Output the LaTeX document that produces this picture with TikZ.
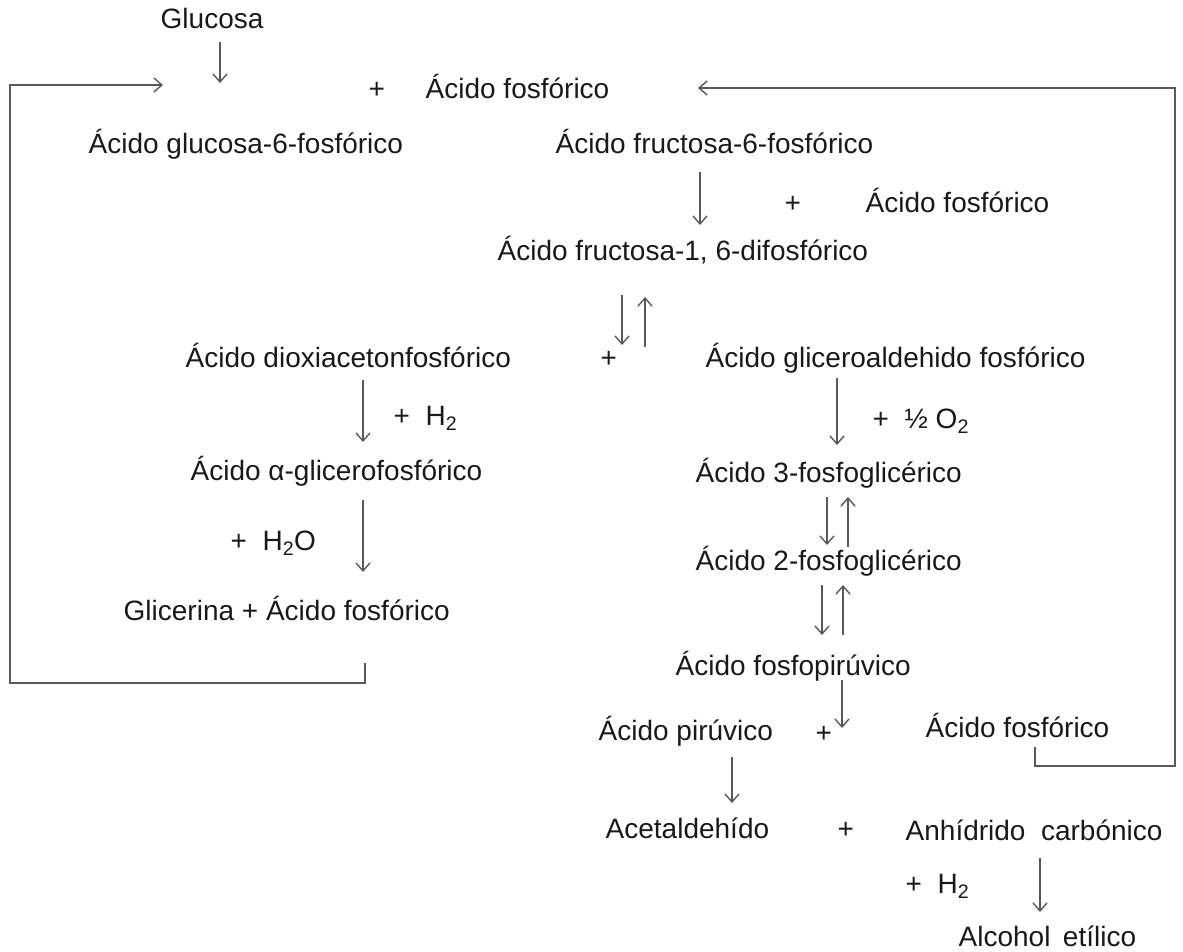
\documentclass[tikz,border=0pt]{standalone}
\usepackage{fontspec}
\setmainfont{Liberation Sans}
\usetikzlibrary{arrows.meta}

\begin{document}
\begin{tikzpicture}[x = 1pt, y = -1pt, line width = 1.4pt,
    txt/.style = {anchor = base west, inner sep = 0pt, text = black!90,
        font = \fontsize{28}{33}\selectfont},
    rxn/.style = {draw = black!65, -{Straight Barb[length = 8pt, width = 14pt]}},
    backline/.style = {draw = black!65, -{Straight Barb[length = 8pt, width = 14pt]}}]
\useasboundingbox (0,0) rectangle (1183,951);

\path (160,28) node[txt](glu){Glucosa}
    (368,98) node[txt](p1){+}
    (425,98) node[txt](fos1){Ácido fosfórico}
    (88,153) node[txt](g6p){Ácido glucosa-6-fosfórico}
    (555,153) node[txt](f6p){Ácido fructosa-6-fosfórico}
    (784,212) node[txt](p2){+}
    (865,212) node[txt](fos2){Ácido fosfórico}
    (497,260) node[txt](fdp){Ácido fructosa-1, 6-difosfórico}
    (185,367) node[txt](dha){Ácido dioxiacetonfosfórico}
    (600,367) node[txt](p3){+}
    (705,367) node[txt](gap){Ácido gliceroaldehido fosfórico}
    (393,425) node[txt](h2a){+\ \ H\textsubscript{2}}
    (190,480) node[txt](agp){Ácido α-glicerofosfórico}
    (230,550) node[txt](h2o){+\ \ H\textsubscript{2}O}
    (123,620) node[txt](glic){Glicerina + Ácido fosfórico}
    (872,428) node[txt](o2){+\ \ ½ O\textsubscript{2}}
    (695,482) node[txt](pg3){Ácido 3-fosfoglicérico}
    (695,570) node[txt](pg2){Ácido 2-fosfoglicérico}
    (675,675) node[txt](pep){Ácido fosfopirúvico}
    (598,740) node[txt](pir){Ácido pirúvico}
    (815,742) node[txt](p4){+}
    (925,737) node[txt](fos3){Ácido fosfórico}
    (605,838) node[txt](acet){Acetaldehído}
    (837,838) node[txt](p5){+}
    (905,840) node[txt](co2){Anhídrido\ \ carbónico}
    (905,893) node[txt](h2b){+\ \ H\textsubscript{2}}
    (958,946) node[txt](etoh){Alcohol\ \,etílico};

\coordinate (a1) at (220,42);   \coordinate (b1) at (220,83);
\coordinate (a2) at (700,172);  \coordinate (b2) at (700,225);
\coordinate (a3) at (622,295);  \coordinate (b3) at (622,345);
\coordinate (a4) at (645,347);  \coordinate (b4) at (645,297);
\coordinate (a5) at (363,380);  \coordinate (b5) at (363,442);
\coordinate (a6) at (363,500);  \coordinate (b6) at (363,572);
\coordinate (a7) at (837,378);  \coordinate (b7) at (837,445);
\coordinate (a8) at (827,497);  \coordinate (b8) at (827,545);
\coordinate (a9) at (848,547);  \coordinate (b9) at (848,497);
\coordinate (a10) at (822,585); \coordinate (b10) at (822,635);
\coordinate (a11) at (843,635); \coordinate (b11) at (843,585);
\coordinate (a12) at (842,680); \coordinate (b12) at (842,728);
\coordinate (a13) at (732,757); \coordinate (b13) at (732,803);
\coordinate (a14) at (1040,858); \coordinate (b14) at (1040,912);

\foreach \i in {1,...,14}
    \draw[rxn] (a\i) -- (b\i);

\coordinate (l1) at (365,663);
\coordinate (l2) at (10,683);
\coordinate (l3) at (163,85);
\coordinate (r1) at (1035,747);
\coordinate (r2) at (1175,766);
\coordinate (r3) at (698,88);

\draw[backline] (l1) |- (l2) |- (l3);
\draw[backline] (r1) |- (r2) |- (r3);

\end{tikzpicture}
\end{document}
